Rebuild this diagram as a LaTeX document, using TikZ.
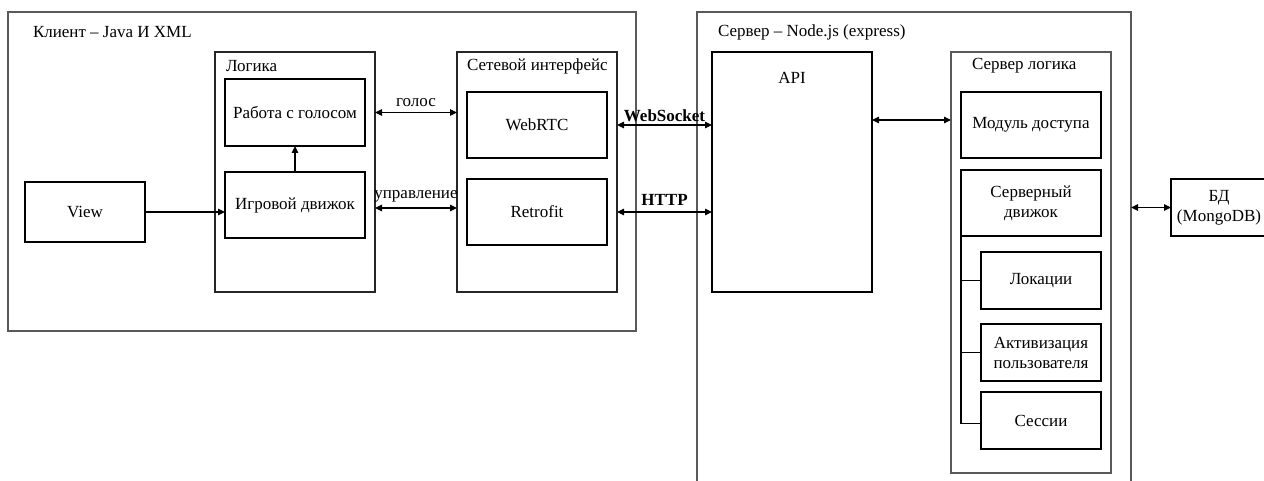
\documentclass[tikz,border=0pt]{standalone}
\usepackage{fontspec}
\setmainfont{Liberation Serif}
\usetikzlibrary{arrows.meta,calc}
\begin{document}
\begin{tikzpicture}[x=1pt,y=-1pt,
  every node/.style={font=\fontsize{17}{20}\selectfont, inner sep=0pt, outer sep=0pt},
  group/.style={draw=black!65, line width=1.1pt, anchor=north west},
  block/.style={draw=black, line width=1.1pt, anchor=north west, align=center},
  title/.style={anchor=west},
  elabel/.style={anchor=south},
  arr/.style={line width=1.1pt, {Triangle[length=7pt,width=6.5pt]}-{Triangle[length=7pt,width=6.5pt]}},
  one/.style={line width=1.1pt, -{Triangle[length=7pt,width=6.5pt]}},
  tree/.style={line width=1.1pt}]
\useasboundingbox (0,0) rectangle (1264,481);
\clip (0,0) rectangle (1264,481);
\fill[white] (0,0) rectangle (1264,481);

% client side
\node[group, minimum width=628, minimum height=319] (client) at (8,12) {};
\node[title] (clientT) at (33,32) {Клиент – Java И XML};

\node[group, draw=black!85, minimum width=160, minimum height=240] (logic) at (215,52) {};
\node[title] (logicT) at (226,66) {Логика};
\node[block, minimum width=140, minimum height=67] (voice) at (225,79) {Работа с голосом};
\node[block, minimum width=140, minimum height=66] (game) at (225,172) {Игровой движок};

\node[block, minimum width=120, minimum height=60] (view) at (25,182) {View};

\node[group, draw=black!85, minimum width=160, minimum height=240] (net) at (457,52) {};
\node[title] (netT) at (467,66) {Сетевой интерфейс};
\node[block, minimum width=140, minimum height=66] (webrtc) at (467,92) {WebRTC};
\node[block, minimum width=140, minimum height=66] (retro) at (467,179) {Retrofit};

% server side
\node[group, minimum width=434, minimum height=490] (server) at (697,12) {};
\node[title] (serverT) at (718,32) {Сервер – Node.js (express)};

\node[block, minimum width=160, minimum height=240] (api) at (712,52) {};
\node (apiT) at (792,78) {API};

\node[group, minimum width=160, minimum height=421] (slogic) at (951,52) {};
\node[title] (slogicT) at (972,66) {Сервер логика};
\node[block, minimum width=140, minimum height=66] (access) at (961,92) {Модуль доступа};
\node[block, minimum width=140, minimum height=66] (sengine) at (961,170) {Серверный\\движок};
\node[block, minimum width=120, minimum height=57] (loc) at (981,252) {Локации};
\node[block, minimum width=120, minimum height=57] (act) at (981,324) {Активизация\\пользователя};
\node[block, minimum width=120, minimum height=57] (sess) at (981,392) {Сессии};

\node[block, minimum width=110, minimum height=57] (db) at (1171,179) {};
\node[align=center] (dbT) at (1219,208) {БД\\(MongoDB)};

% connectors inside the client
\draw[one] (game.north) -- (voice.south);
\draw[one] (view.east) -- (view.east -| game.west);
\draw[arr] (voice.east -| logic.east) -- (voice.east -| net.west)
  node[elabel, midway, yshift=6pt] (voiceL) {голос};
\draw[arr] ($(game.east -| logic.east)+(0,3)$) -- ($(game.east -| net.west)+(0,3)$)
  node[elabel, midway, yshift=6pt] (ctrlL) {управление};

% client to server
\draw[arr] (webrtc.east -| net.east) -- (webrtc.east -| api.west)
  node[elabel, midway, yshift=3pt] (wsL) {\textbf{WebSocket}};
\draw[arr] (retro.east -| net.east) -- (retro.east -| api.west)
  node[elabel, midway, yshift=6pt] (httpL) {\textbf{HTTP}};

% server internals
\draw[arr] ($(api.east)+(0,-52)$) -- ($(api.east -| slogic.west)+(0,-52)$);
\draw[tree] (sengine.south west) |- (loc.west);
\draw[tree] (sengine.south west |- act.west) -- (act.west);
\draw[tree] (sengine.south west) |- ($(sess.west)+(0,3)$);
\draw[arr] (db.west -| server.east) -- (db.west);
\end{tikzpicture}
\end{document}
